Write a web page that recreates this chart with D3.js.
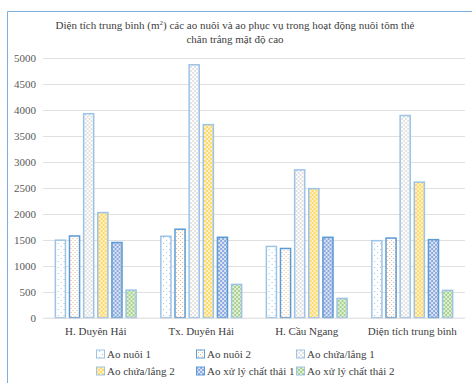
<!DOCTYPE html>
<html>
<head>
<meta charset="utf-8">
<script src="https://cdn.jsdelivr.net/npm/d3@7"></script>
<style>
  html, body { margin: 0; padding: 0; background: #fff; }
  svg { display: block; font-family: "Liberation Serif", "Times New Roman", serif; }
</style>
</head>
<body>
<svg id="chart" width="472" height="383"></svg>
<script>
// Average area (m²) of grow-out ponds and support ponds
const categories = ["H. Duyên Hải", "Tx. Duyên Hải", "H. Cầu Ngang", "Diện tích trung bình"];
const seriesNames = ["Ao nuôi 1", "Ao nuôi 2", "Ao chứa/lắng 1", "Ao chứa/lắng 2", "Ao xử lý chất thải 1", "Ao xử lý chất thải 2"];
const aoNuoi1      = [1490, 1565, 1370, 1480];
const aoNuoi2      = [1570, 1700, 1330, 1530];
const aoChuaLang1  = [3920, 4860, 2840, 3885];
const aoChuaLang2  = [2020, 3710, 2480, 2605];
const aoXuLy1      = [1445, 1545, 1545, 1500];
const aoXuLy2      = [530, 640, 370, 525];
const yTicks = [0, 500, 1000, 1500, 2000, 2500, 3000, 3500, 4000, 4500, 5000];

const seriesValues = [aoNuoi1, aoNuoi2, aoChuaLang1, aoChuaLang2, aoXuLy1, aoXuLy2];

const svg = d3.select("#chart");

// Bar fill patterns
const defs = svg.append("defs");
function dotPattern(id, bg, dot, size, r) {
  const p = defs.append("pattern").attr("id", id).attr("patternUnits", "userSpaceOnUse")
    .attr("width", size).attr("height", size);
  p.append("rect").attr("width", size).attr("height", size).attr("fill", bg);
  p.append("rect").attr("x", 0).attr("y", 0).attr("width", r).attr("height", r).attr("fill", dot);
  p.append("rect").attr("x", size / 2).attr("y", size / 2).attr("width", r).attr("height", r).attr("fill", dot);
}
function checkPattern(id, a, b) {
  const p = defs.append("pattern").attr("id", id).attr("patternUnits", "userSpaceOnUse")
    .attr("width", 4).attr("height", 4);
  p.append("rect").attr("width", 4).attr("height", 4).attr("fill", a);
  p.append("rect").attr("width", 2).attr("height", 2).attr("fill", b);
  p.append("rect").attr("x", 2).attr("y", 2).attr("width", 2).attr("height", 2).attr("fill", b);
}
dotPattern("p0", "#ffffff", "#9dc3e6", 6, 1);
dotPattern("p1", "#ffffff", "#f4b183", 4, 1);
checkPattern("p2", "#ffffff", "#e2e2e2");
checkPattern("p3", "#fff2cc", "#ffd966");
checkPattern("p4", "#dae3f3", "#8faadc");
checkPattern("p5", "#e2f0d9", "#a9d18e");
const strokes = ["#9dc3e6", "#5b9bd5", "#9dc3e6", "#9dc3e6", "#5b9bd5", "#9dc3e6"];

// Chart frame
svg.append("path").attr("d", "M7.5,383 L7.5,11.5 L472,11.5")
  .attr("fill", "none").attr("stroke", "#5b9bd5").attr("stroke-opacity", 0.8).attr("stroke-width", 1);

// Title
const title = svg.append("text").attr("text-anchor", "middle").attr("fill", "#404040").attr("font-size", 11);
title.append("tspan").attr("x", 235).attr("y", 29).text("Diện tích trung bình (m");
title.append("tspan").attr("font-size", 7).attr("dy", -4).text("2");
title.append("tspan").attr("dy", 4).text(") các ao nuôi và ao phục vụ trong hoạt động nuôi tôm thẻ");
title.append("tspan").attr("x", 235).attr("y", 43).text("chân trắng mật độ cao");

const x0 = 43, x1 = 465, yTop = 57.5, yBot = 317.7;
const x = d3.scaleBand().domain(categories).range([x0, x1]).paddingInner(0.22).paddingOuter(0.11);
const xs = d3.scaleBand().domain(d3.range(seriesNames.length)).range([0, x.bandwidth()]).paddingInner(0.18);
const y = d3.scaleLinear().domain([0, 5000]).range([yBot, yTop]);

// Gridlines
svg.append("g").selectAll("line").data(yTicks.filter(d => d > 0)).join("line")
  .attr("x1", x0).attr("x2", x1)
  .attr("y1", d => Math.round(y(d)) + 0.5).attr("y2", d => Math.round(y(d)) + 0.5)
  .attr("stroke", "#e0e0e0").attr("stroke-width", 1);

// Y axis labels
const yAxis = svg.append("g").attr("transform", `translate(${x0},0)`)
  .call(d3.axisLeft(y).tickValues(yTicks).tickFormat(d3.format("d")).tickSize(0).tickPadding(7));
yAxis.select(".domain").remove();
yAxis.selectAll("text").attr("fill", "#595959").attr("font-size", 11)
  .attr("font-family", "Liberation Serif, serif");

// Bars
const groups = svg.append("g").selectAll("g").data(categories).join("g")
  .attr("transform", d => `translate(${x(d)},0)`);
groups.selectAll("rect").data((c, ci) => seriesValues.map((vals, si) => ({ si, v: vals[ci] }))).join("rect")
  .attr("x", d => xs(d.si) + 0.75)
  .attr("y", d => y(d.v))
  .attr("width", xs.bandwidth() - 1.5)
  .attr("height", d => yBot - y(d.v))
  .attr("fill", d => `url(#p${d.si})`)
  .attr("stroke", d => strokes[d.si]).attr("stroke-width", 1.5);

// Baseline
svg.append("line").attr("x1", x0).attr("x2", x1).attr("y1", yBot + 0.5).attr("y2", yBot + 0.5)
  .attr("stroke", "#d9d9d9").attr("stroke-width", 1);

// X axis labels
const xAxis = svg.append("g").attr("transform", `translate(0,${yBot})`)
  .call(d3.axisBottom(x).tickSize(0).tickPadding(10));
xAxis.select(".domain").remove();
xAxis.selectAll("text").attr("fill", "#404040").attr("font-size", 11)
  .attr("font-family", "Liberation Serif, serif");

// Legend
const legendCols = [96, 196, 296];
const legendRows = [354, 371];
const legend = svg.append("g").selectAll("g").data(seriesNames).join("g")
  .attr("transform", (d, i) => `translate(${legendCols[i % 3]},${legendRows[Math.floor(i / 3)]})`);
legend.append("rect").attr("x", 0.5).attr("y", -4).attr("width", 8).attr("height", 8)
  .attr("fill", (d, i) => `url(#p${i})`).attr("stroke", (d, i) => strokes[i]).attr("stroke-width", 1);
legend.append("text").attr("x", 11).attr("y", 0).attr("dy", "0.35em")
  .attr("fill", "#404040").attr("font-size", 11).text(d => d);
</script>
</body>
</html>
